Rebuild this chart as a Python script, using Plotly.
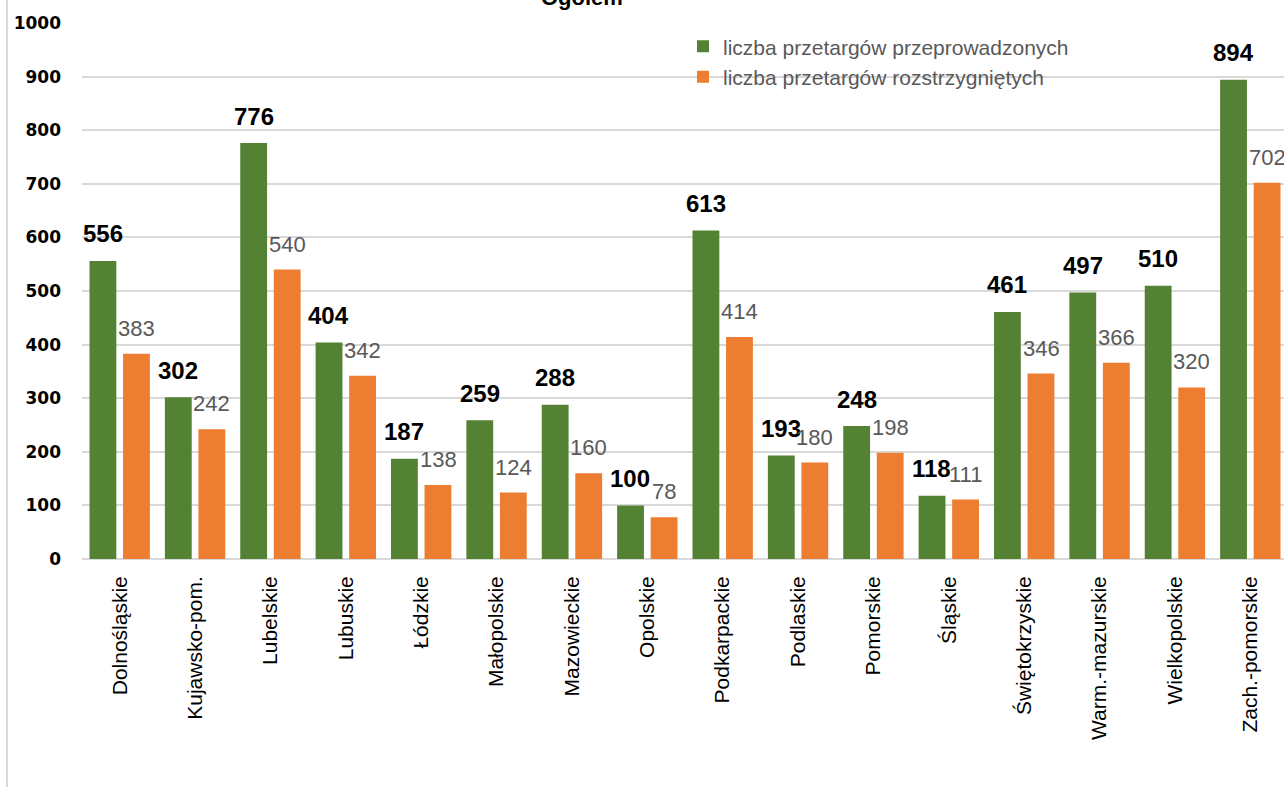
import plotly.graph_objects as go

categories = ["Dolnośląskie", "Kujawsko-pom.", "Lubelskie", "Lubuskie", "Łódzkie",
              "Małopolskie", "Mazowieckie", "Opolskie", "Podkarpackie", "Podlaskie",
              "Pomorskie", "Śląskie", "Świętokrzyskie", "Warm.-mazurskie",
              "Wielkopolskie", "Zach.-pomorskie"]
przeprowadzone = [556, 302, 776, 404, 187, 259, 288, 100, 613, 193, 248, 118, 461, 497, 510, 894]
rozstrzygniete = [383, 242, 540, 342, 138, 124, 160, 78, 414, 180, 198, 111, 346, 366, 320, 702]
name_a = "liczba przetargów przeprowadzonych"
name_b = "liczba przetargów rozstrzygniętych"
y_ticks = list(range(0, 1001, 100))

GREEN = "#548235"
ORANGE = "#ED7D31"
GRID = "#D9D9D9"

fig = go.Figure()
fig.add_trace(go.Bar(x=categories, y=przeprowadzone, name=name_a,
                     marker=dict(color=GREEN, line=dict(width=0))))
fig.add_trace(go.Bar(x=categories, y=rozstrzygniete, name=name_b,
                     marker=dict(color=ORANGE, line=dict(width=0))))

annotations = []
for c, v in zip(categories, przeprowadzone):
    annotations.append(dict(x=c, y=v, xref="x", yref="y", text=str(v), showarrow=False,
                            xshift=-16.9, yshift=27, yanchor="middle", xanchor="center",
                            font=dict(family="Liberation Sans", size=24, color="#000000", weight="bold")))
for c, v in zip(categories, rozstrzygniete):
    annotations.append(dict(x=c, y=v, xref="x", yref="y", text=str(v), showarrow=False,
                            xshift=16.9, yshift=25.5, yanchor="middle", xanchor="center",
                            font=dict(family="Liberation Sans", size=22, color="#595959")))
# partially visible title at the very top (cut off by the page edge)
annotations.append(dict(x=0.38, y=1.0205, xref="paper", yref="paper", text="Ogółem",
                        showarrow=False, xanchor="left", yanchor="bottom",
                        font=dict(family="Liberation Sans", size=22, color="#000000", weight="bold")))

fig.update_layout(
    width=1284, height=787, autosize=False,
    margin=dict(l=82, r=0, t=23, b=228, pad=0),
    paper_bgcolor="white", plot_bgcolor="white",
    barmode="group", bargap=0.11, bargroupgap=0.2,
    annotations=annotations,
    showlegend=True,
    legend=dict(x=0.5, y=0.994, xanchor="left", yanchor="top",
                bgcolor="rgba(0,0,0,0)", borderwidth=0, tracegroupgap=0,
                font=dict(family="Liberation Sans", size=21, color="#595959")),
    xaxis=dict(type="category", range=[-0.5, 15.447], tickangle=-90,
               showgrid=False, showline=False, ticks="", ticklabelstandoff=12,
               tickfont=dict(family="Liberation Sans", size=21, color="#000000")),
    yaxis=dict(range=[0, 1000], tickvals=y_ticks, ticktext=[str(t) for t in y_ticks],
               showgrid=True, gridcolor=GRID, gridwidth=2,
               zeroline=True, zerolinecolor=GRID, zerolinewidth=2,
               showline=False, ticks="", ticklabelstandoff=20,
               tickfont=dict(family="DejaVu Sans", size=17, color="#000000", weight="bold")),
    shapes=[dict(type="line", xref="paper", yref="paper",
                 x0=-0.0624, x1=-0.0624, y0=1.05, y1=-0.43,
                 line=dict(color=GRID, width=2))],
)

fig.write_html("out.html")
